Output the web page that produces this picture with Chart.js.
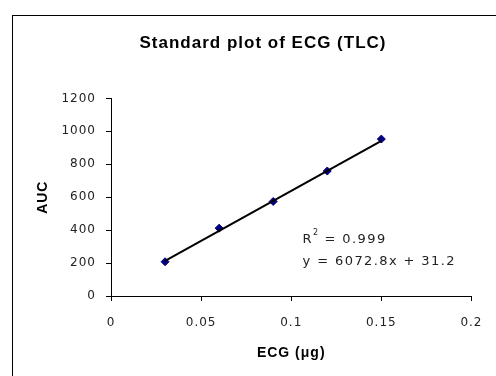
<!DOCTYPE html>
<html lang="en">
<head>
    <meta charset="UTF-8">
    <title>Standard plot of ECG (TLC)</title>
    <script src="https://cdn.jsdelivr.net/npm/chart.js"></script>
    <style>
        body {
            margin: 0;
            width: 496px;
            height: 376px;
            overflow: hidden;
            background-color: #fff;
            position: relative;
        }

        .frame {
            position: absolute;
            left: 12px;
            top: 15px;
            width: 500px;
            height: 400px;
            border: 1px solid #000;
        }

        canvas {
            position: absolute;
            left: 0;
            top: 0;
        }
    </style>
</head>
<body>
    <div class="frame"></div>
    <canvas id="stdPlot" width="496" height="376"></canvas>
    <script>
        // ECG amount (ug) and peak area
        const ecgAmount = [0.03, 0.06, 0.09, 0.12, 0.15];
        const aucValues = [208, 412, 574, 759, 953];

        // linear trendline end points (y = 6072.8x + 31.2)
        const trendX = [0.03, 0.15];
        const trendY = [213, 942];

        const fitLines = ['R', ' = 0.999', 'y = 6072.8x + 31.2'];

        const titleFont = "'Liberation Sans', Arial, sans-serif";
        const tickFont = "'DejaVu Sans', Verdana, sans-serif";

        const fitLabel = {
            id: 'fitLabel',
            beforeDraw(chart) {
                chart.ctx.letterSpacing = '1px';
            },
            afterDraw(chart) {
                const ctx = chart.ctx;
                const x = chart.scales.x.getPixelForValue(0.1063);
                const y1 = chart.scales.y.getPixelForValue(345);
                const y2 = chart.scales.y.getPixelForValue(206);
                ctx.save();
                ctx.fillStyle = '#222';
                ctx.textBaseline = 'middle';
                ctx.textAlign = 'left';
                ctx.letterSpacing = '1.4px';
                ctx.font = "13px " + tickFont;
                ctx.fillText(fitLines[0], x, y1);
                const w = ctx.measureText(fitLines[0]).width;
                ctx.font = "8px " + tickFont;
                ctx.fillText('2', x + w, y1 - 6);
                ctx.font = "13px " + tickFont;
                ctx.fillText(fitLines[1], x + w + 6, y1);
                ctx.fillText(fitLines[2], x, y2);
                ctx.restore();
            }
        };

        const ctx = document.getElementById('stdPlot').getContext('2d');

        new Chart(ctx, {
            type: 'scatter',
            data: {
                datasets: [
                    {
                        label: 'Linear (AUC)',
                        data: trendX.map((x, i) => ({ x: x, y: trendY[i] })),
                        showLine: true,
                        borderColor: '#000',
                        borderWidth: 2,
                        pointRadius: 0,
                        fill: false
                    },
                    {
                        label: 'AUC',
                        data: ecgAmount.map((x, i) => ({ x: x, y: aucValues[i] })),
                        pointStyle: 'rectRot',
                        pointRadius: 4,
                        pointBackgroundColor: '#000080',
                        pointBorderColor: '#000080',
                        borderWidth: 1
                    }
                ]
            },
            options: {
                responsive: false,
                animation: false,
                layout: {
                    // left padding pushes the title centre to the right, like the original
                    padding: { left: 52, right: 22, top: 0, bottom: 0 }
                },
                plugins: {
                    legend: { display: false },
                    tooltip: { enabled: false },
                    title: {
                        display: true,
                        text: 'Standard plot of ECG (TLC)',
                        color: '#000',
                        font: { family: titleFont, size: 17, weight: 'bold' },
                        padding: { top: 33, bottom: 45 }
                    }
                },
                scales: {
                    x: {
                        type: 'linear',
                        min: 0,
                        max: 0.2,
                        afterFit(scale) { scale.height = 80; },
                        ticks: {
                            stepSize: 0.05,
                            color: '#222',
                            padding: 15,
                            font: { family: tickFont, size: 12 },
                            callback: v => String(+v.toFixed(2))
                        },
                        grid: {
                            display: true,
                            drawOnChartArea: false,
                            drawTicks: true,
                            tickLength: 5,
                            color: '#000'
                        },
                        border: { display: true, color: '#000', width: 1 },
                        title: {
                            display: true,
                            text: 'ECG (\u03bcg)',
                            color: '#000',
                            font: { family: titleFont, size: 14, weight: 'bold' },
                            padding: { top: 0, bottom: 14 }
                        }
                    },
                    y: {
                        min: 0,
                        max: 1200,
                        afterFit(scale) { scale.width = 59; },
                        ticks: {
                            stepSize: 200,
                            color: '#222',
                            padding: 10,
                            font: { family: tickFont, size: 12 },
                            callback: v => String(v)
                        },
                        grid: {
                            display: true,
                            drawOnChartArea: false,
                            drawTicks: true,
                            tickLength: 5,
                            color: '#000'
                        },
                        border: { display: true, color: '#000', width: 1 },
                        title: {
                            display: true,
                            text: 'AUC',
                            color: '#000',
                            font: { family: titleFont, size: 14, weight: 'bold' },
                            padding: { top: -17, bottom: 0 }
                        }
                    }
                }
            },
            plugins: [fitLabel]
        });
    </script>
</body>
</html>
